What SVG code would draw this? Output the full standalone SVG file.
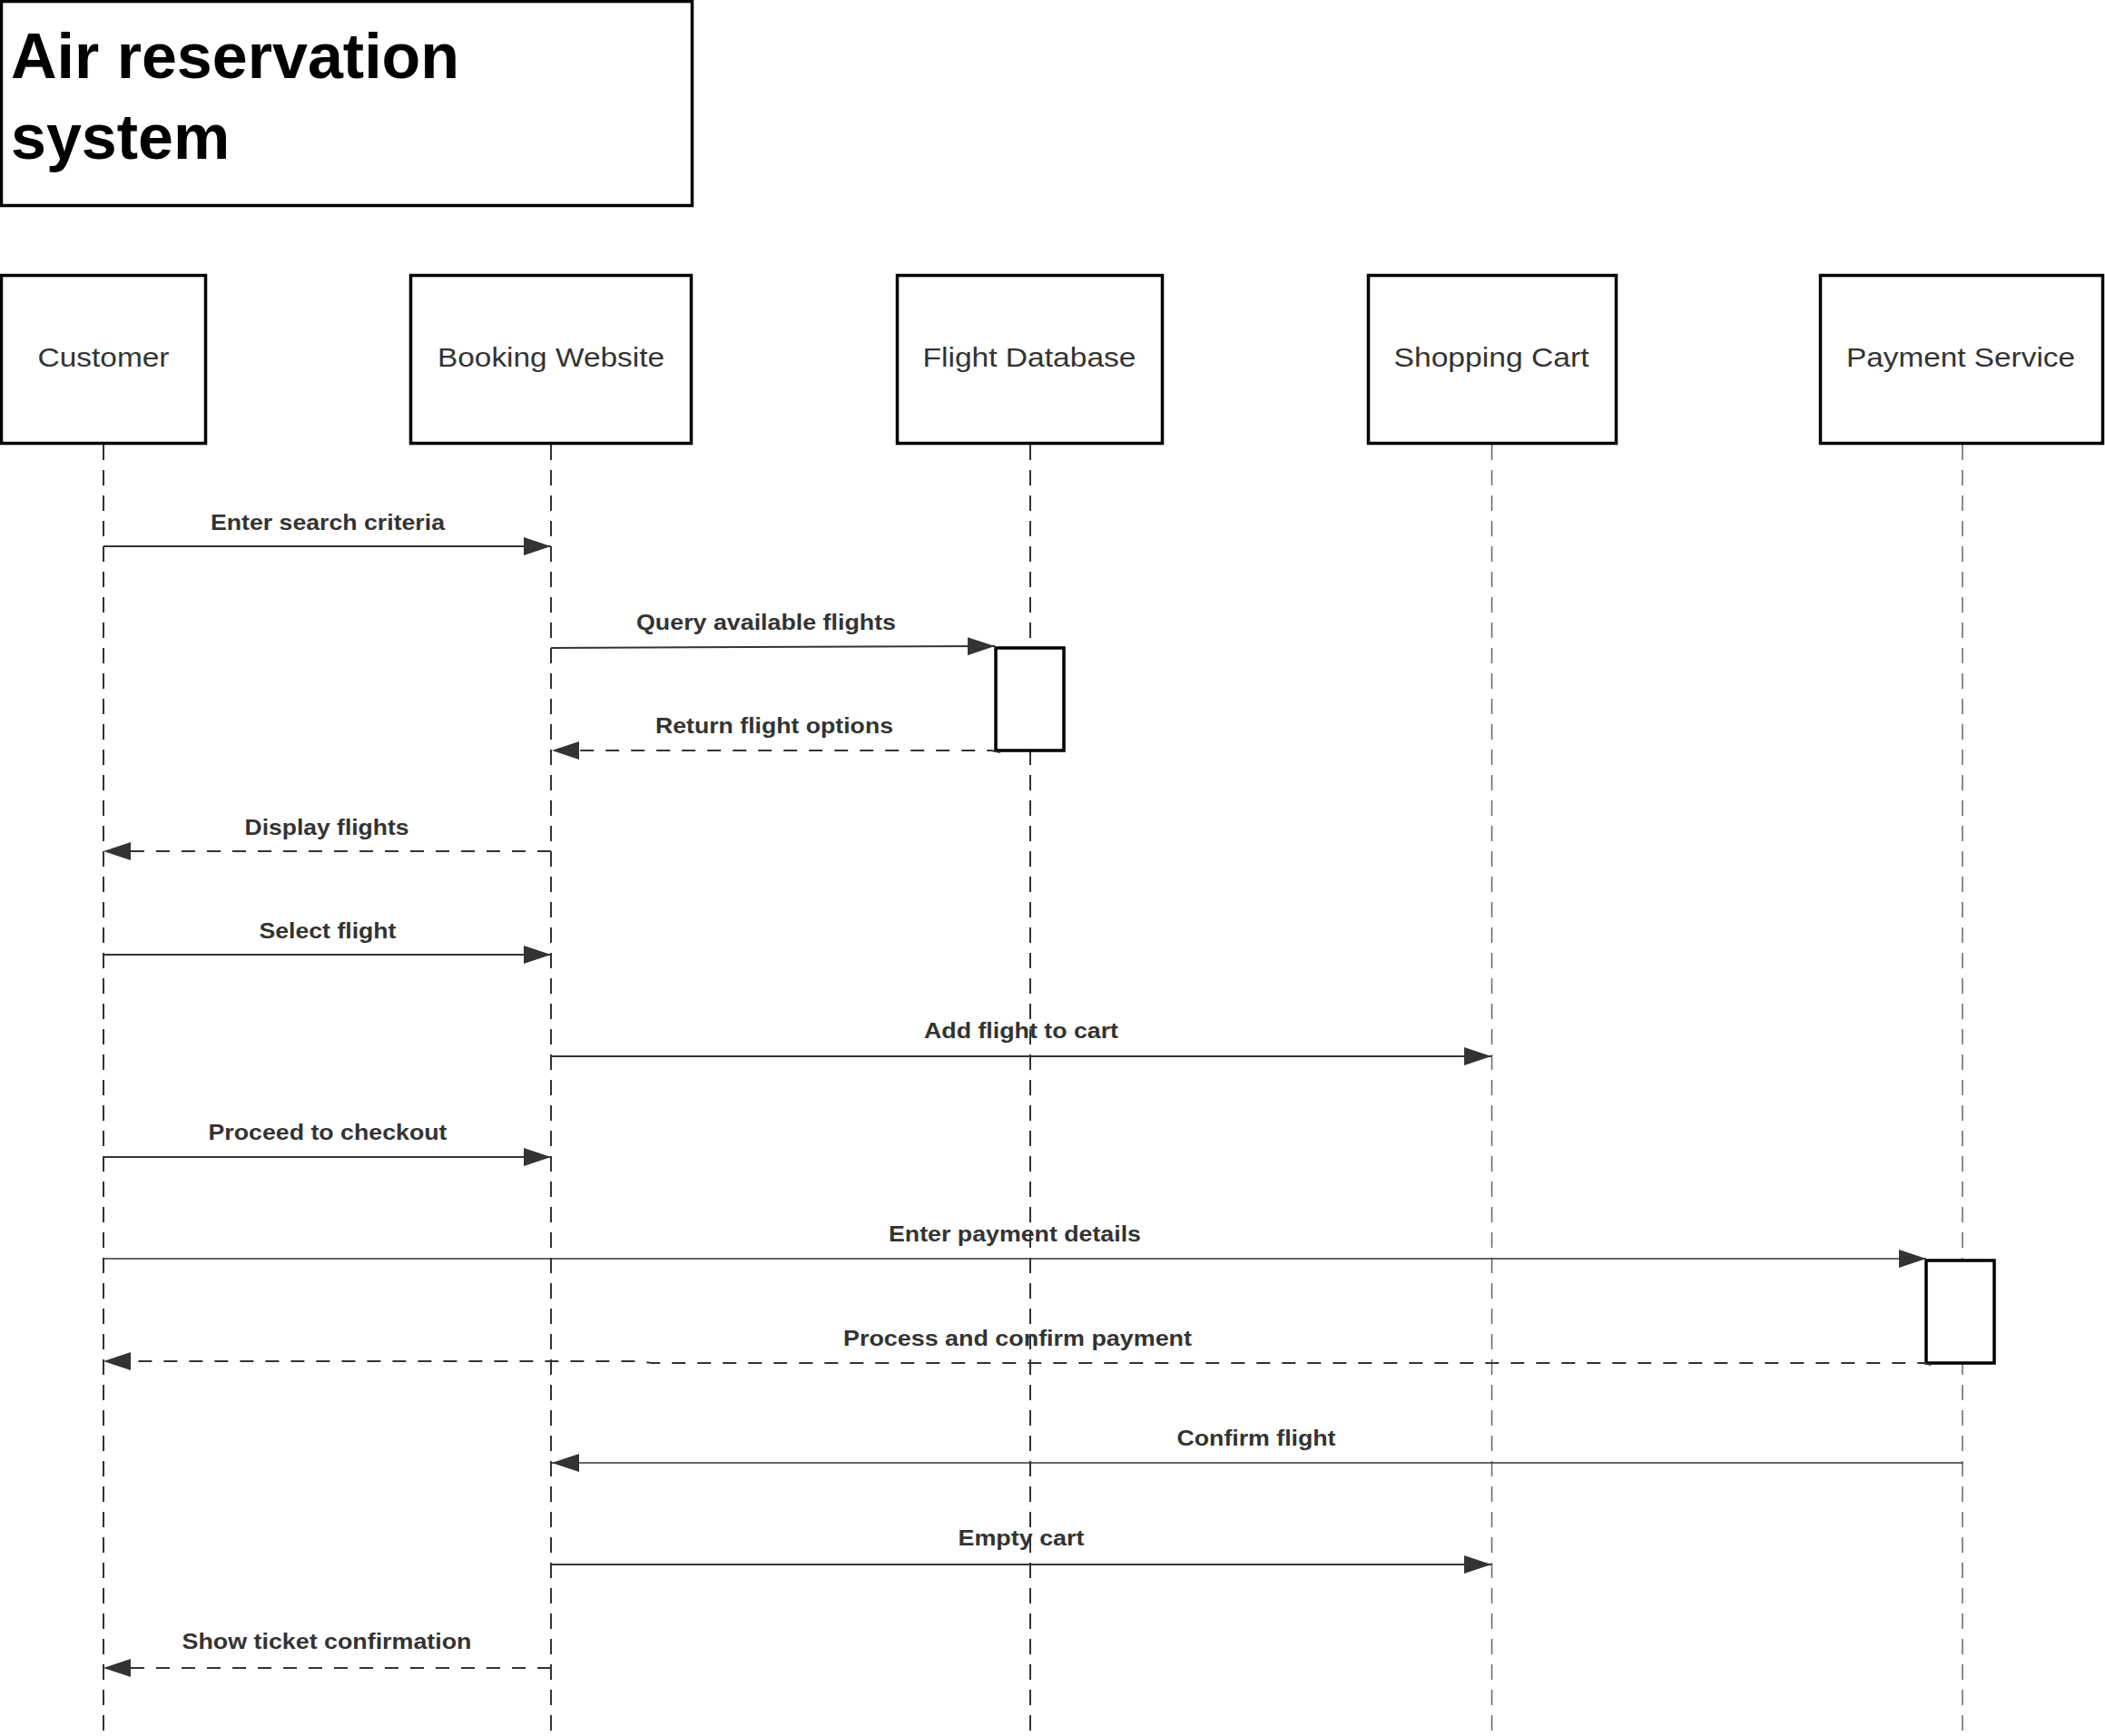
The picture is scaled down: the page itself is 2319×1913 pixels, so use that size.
<svg xmlns="http://www.w3.org/2000/svg" width="2319" height="1913" viewBox="0 0 2319 1913">
  <style>
    .box { fill: #ffffff; stroke: #000000; stroke-width: 3.5; }
    .title { font-family: "Liberation Sans", Arial, sans-serif; font-weight: bold; font-size: 70px; fill: #000000; }
    .nlabel { font-family: "Liberation Sans", Arial, sans-serif; font-size: 29px; fill: #333333; text-anchor: middle; }
    .mlabel { font-family: "Liberation Sans", Arial, sans-serif; font-weight: bold; font-size: 24px; fill: #333333; text-anchor: middle; }
    .life { fill: none; stroke: #333333; stroke-width: 2; stroke-dasharray: 17 11; }
    .light { stroke: #666666; stroke-width: 1.5; }
    .msg { fill: none; stroke: #333333; stroke-width: 2; }
    .thin { stroke-width: 1.5; }
    .ret { stroke-dasharray: 15 13; }
    .act { fill: #ffffff; stroke: #000000; stroke-width: 3.5; }
  </style>
  <defs>
    <marker id="arr" viewBox="0 0 30 20" refX="30" refY="10" markerWidth="30" markerHeight="20" markerUnits="userSpaceOnUse" orient="auto">
      <path d="M0,0 L30,10 L0,20 Z" fill="#333333"/>
    </marker>
  </defs>
  <rect width="2319" height="1913" fill="#ffffff"/>

  <g id="title">
    <rect class="box" x="1.5" y="1.5" width="761" height="225"/>
    <text class="title" x="12" y="86">Air reservation</text>
    <text class="title" x="12" y="175">system</text>
  </g>

  <g id="lifelines">
    <line class="life" x1="114" y1="490" x2="114" y2="1913"/>
    <line class="life" x1="607" y1="490" x2="607" y2="1913"/>
    <line class="life" x1="1135" y1="490" x2="1135" y2="1913"/>
    <line class="life light" x1="1643.5" y1="490" x2="1643.5" y2="1913"/>
    <line class="life light" x1="2162" y1="490" x2="2162" y2="1913"/>
  </g>

  <g id="customer">
    <rect class="box" x="1.5" y="303.5" width="225" height="185"/>
    <text class="nlabel" x="114" y="404" textLength="145" lengthAdjust="spacingAndGlyphs">Customer</text>
  </g>
  <g id="booking-website">
    <rect class="box" x="452.5" y="303.5" width="309" height="185"/>
    <text class="nlabel" x="607" y="404" textLength="250" lengthAdjust="spacingAndGlyphs">Booking Website</text>
  </g>
  <g id="flight-database">
    <rect class="box" x="988.5" y="303.5" width="292" height="185"/>
    <text class="nlabel" x="1134" y="404" textLength="235" lengthAdjust="spacingAndGlyphs">Flight Database</text>
  </g>
  <g id="shopping-cart">
    <rect class="box" x="1507.5" y="303.5" width="273" height="185"/>
    <text class="nlabel" x="1643" y="404" textLength="215" lengthAdjust="spacingAndGlyphs">Shopping Cart</text>
  </g>
  <g id="payment-service">
    <rect class="box" x="2005.5" y="303.5" width="311" height="185"/>
    <text class="nlabel" x="2160" y="404" textLength="252" lengthAdjust="spacingAndGlyphs">Payment Service</text>
  </g>

  <g id="activation-flight-database">
    <rect class="act" x="1097" y="714" width="75" height="113"/>
  </g>
  <g id="activation-payment-service">
    <rect class="act" x="2122" y="1389" width="75" height="113"/>
  </g>

  <g id="connectors">
    <line class="msg" x1="114" y1="602" x2="607" y2="602" marker-end="url(#arr)"/>
    <path class="msg" d="M607,714 L1096,712" marker-end="url(#arr)"/>
    <path class="msg ret" d="M1102,829 L1092,827 L608,827" marker-end="url(#arr)"/>
    <line class="msg ret" x1="607" y1="938" x2="114" y2="938" marker-end="url(#arr)"/>
    <line class="msg" x1="114" y1="1052" x2="607" y2="1052" marker-end="url(#arr)"/>
    <line class="msg" x1="607" y1="1164" x2="1643" y2="1164" marker-end="url(#arr)"/>
    <line class="msg" x1="114" y1="1275" x2="607" y2="1275" marker-end="url(#arr)"/>
    <line class="msg thin" x1="114" y1="1387" x2="2122" y2="1387" marker-end="url(#arr)"/>
    <path class="msg ret" d="M2127,1504 L2120,1502 L718,1502 L700,1500 L114,1500" marker-end="url(#arr)"/>
    <line class="msg thin" x1="2162" y1="1612" x2="608" y2="1612" marker-end="url(#arr)"/>
    <line class="msg" x1="607" y1="1724" x2="1643" y2="1724" marker-end="url(#arr)"/>
    <line class="msg ret" x1="607" y1="1838" x2="114" y2="1838" marker-end="url(#arr)"/>
  </g>

  <g id="message-labels">
    <text class="mlabel" x="361" y="584" textLength="258" lengthAdjust="spacingAndGlyphs">Enter search criteria</text>
    <text class="mlabel" x="844" y="694" textLength="286" lengthAdjust="spacingAndGlyphs">Query available flights</text>
    <text class="mlabel" x="853" y="808" textLength="262" lengthAdjust="spacingAndGlyphs">Return flight options</text>
    <text class="mlabel" x="360" y="920" textLength="181" lengthAdjust="spacingAndGlyphs">Display flights</text>
    <text class="mlabel" x="361" y="1034" textLength="151" lengthAdjust="spacingAndGlyphs">Select flight</text>
    <text class="mlabel" x="1125" y="1144" textLength="214" lengthAdjust="spacingAndGlyphs">Add flight to cart</text>
    <text class="mlabel" x="361" y="1256" textLength="263" lengthAdjust="spacingAndGlyphs">Proceed to checkout</text>
    <text class="mlabel" x="1118" y="1368" textLength="278" lengthAdjust="spacingAndGlyphs">Enter payment details</text>
    <text class="mlabel" x="1121" y="1483" textLength="384" lengthAdjust="spacingAndGlyphs">Process and confirm payment</text>
    <text class="mlabel" x="1384" y="1593" textLength="175" lengthAdjust="spacingAndGlyphs">Confirm flight</text>
    <text class="mlabel" x="1125" y="1703" textLength="139" lengthAdjust="spacingAndGlyphs">Empty cart</text>
    <text class="mlabel" x="360" y="1817" textLength="319" lengthAdjust="spacingAndGlyphs">Show ticket confirmation</text>
  </g>
</svg>
